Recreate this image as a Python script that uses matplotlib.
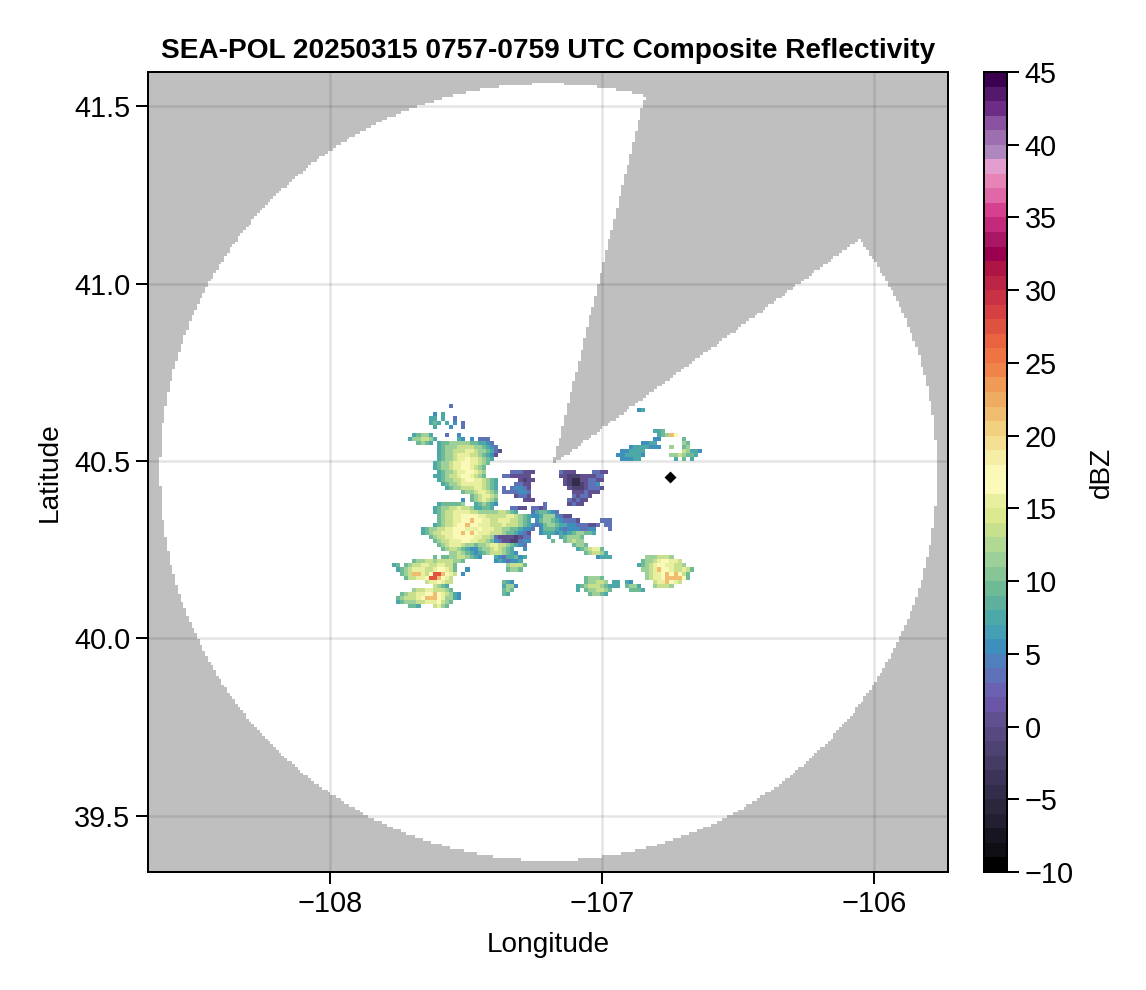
"""SEA-POL composite reflectivity map with the radar coverage mask and a stepped colorbar."""
import numpy as np
import matplotlib
matplotlib.use("Agg")
import matplotlib.pyplot as plt
from matplotlib.colors import ListedColormap, BoundaryNorm

plt.rcParams["font.family"] = ["Liberation Sans", "DejaVu Sans"]

OUT_PATH = "out.png"

TITLE = "SEA-POL 20250315 0757-0759 UTC Composite Reflectivity"
XLIM = (-108.669, -105.728)
YLIM = (39.342, 41.596)
X_TICKS = [-108, -107, -106]
Y_TICKS = [39.5, 40.0, 40.5, 41.0, 41.5]
CB_TICKS = [-10, -5, 0, 5, 10, 15, 20, 25, 30, 35, 40, 45]

# radar coverage
DISC_LON, DISC_LAT = -107.197, 40.469
DISC_R_LON, DISC_R_LAT = 1.428, 1.094
APEX_LON, APEX_LAT = -107.18, 40.489
BLOCK_AZ = (14.0, 53.6)
ASPECT = 355.0 / 272.0

MARKER_LON, MARKER_LAT = -106.75, 40.455

# one colour per dBZ bin, -10 to 44
COLORS = [
    "#000000", "#0f0e14", "#171520", "#231f30", "#2b263b", "#332c4a", "#3d3358", "#463b64",
    "#4e4272", "#57487f", "#60508f", "#6a55a6", "#6a62b0", "#5f72b8", "#4f80bc", "#3f8fbc",
    "#459fb4", "#4da8a8", "#5eb09d", "#6fba96", "#88c596", "#9dcf98", "#b2d993", "#c8e08e",
    "#dde98f", "#e8f0a0", "#fbfab9", "#fbf9b8", "#f6eda6", "#f3de92", "#f1d07f", "#f0bc70",
    "#eeac62", "#ef9a55", "#f08349", "#ee7443", "#e96340", "#e05240", "#d64042", "#c93144",
    "#bc2445", "#ae1545", "#9b004f", "#a91664", "#c42a7c", "#d5408f", "#e068a8", "#e684b5",
    "#e29ecf", "#ae87bf", "#9d6fb1", "#8b52a1", "#6d2c85", "#54186d", "#3b0050",
]
BOUNDS = list(range(-10, 46))

# echo grid
GRID_LON0, GRID_DLON = -107.772, 0.015
GRID_LAT0, GRID_DLAT = 40.66, -0.0115
N_ROWS, N_COLS = 50, 77
LEVELS = {"c": -4.5, "0": -1.5, "1": 0.5, "2": 3, "3": 5.5, "4": 7.5, "5": 9.5, "6": 11.5, "7": 13.5,
          "8": 15.5, "9": 17.5, "a": 21.5, "b": 27.5}

# (row, first column, levels)
ECHO_SPANS = [
    (0, 14, "2"), (1, 60, "34"), (2, 10, "3"), (2, 12, "4"),
    (3, 9, "44"), (3, 12, "4"), (3, 15, "2"),
    (4, 9, "45"), (4, 11, "4"), (4, 13, "4"), (4, 15, "3"), (4, 17, "2"),
    (5, 10, "4"), (5, 14, "3"), (5, 17, "2"), (6, 64, "445"),
    (7, 5, "45664"), (7, 13, "2"), (7, 16, "3"), (7, 65, "456"), (7, 68, "a9"),
    (8, 4, "4667764"), (8, 16, "43"), (8, 19, "3"), (8, 21, "22"), (8, 23, "2"), (8, 64, "33"), (8, 71, "5"),
    (9, 6, "5654"), (9, 11, "45566666554432"), (9, 61, "3344"), (9, 71, "65"),
    (10, 11, "456667777665432"), (10, 58, "34444333"), (10, 68, "6"), (10, 71, "56"),
    (11, 11, "4566777887665421"), (11, 56, "334444"), (11, 71, "76"), (11, 73, "443"),
    (12, 11, "456678887765431"), (12, 55, "3344443"), (12, 68, "66"), (12, 70, "7"), (12, 71, "65"), (12, 73, "54"),
    (13, 11, "45667889887654"), (13, 56, "33"), (13, 58, "344"), (13, 69, "4"), (13, 71, "5"), (13, 73, "4"),
    (14, 10, "45667889988765"), (15, 10, "4566788998765"),
    (16, 11, "456678899876"), (16, 29, "222111"), (16, 41, "2111"), (16, 49, "2211"),
    (17, 10, "4456778998765"), (17, 27, "2211111"), (17, 41, "11000111122"),
    (18, 11, "456677899887654"), (18, 31, "1011"), (18, 42, "10cc112211"),
    (19, 12, "45667888887654"), (19, 30, "2211"), (19, 42, "10cc01223"),
    (20, 13, "4566777887654"), (20, 27, "2"), (20, 29, "23321"), (20, 43, "100012221"),
    (21, 17, "566788765"), (21, 27, "22"), (21, 29, "2"), (21, 30, "2332"), (21, 44, "1112111"),
    (22, 19, "5678876"), (22, 30, "1221"), (22, 44, "21221"),
    (23, 17, "3"), (23, 19, "5678765"), (23, 32, "111"), (23, 43, "2121"), (23, 47, "1"),
    (24, 11, "4555556"), (24, 20, "456543"), (24, 37, "2"), (24, 43, "1211"),
    (25, 10, "4566778776"), (25, 20, "44554"), (25, 29, "2211"), (25, 34, "2212"),
    (26, 10, "456778888776666677654"), (26, 34, "2455432"),
    (27, 11, "5677889999887777788765"), (27, 33, "43"), (27, 35, "346663211"),
    (28, 11, "56778899a99887788877654"), (28, 35, "35665432221"), (28, 51, "22"), (28, 53, "2"),
    (29, 10, "45677899a99888777877765432"), (29, 36, "356654433222112"), (29, 52, "22"),
    (30, 7, "4566778899988898887766554332"), (30, 36, "35554323332233"), (30, 53, "2"),
    (31, 7, "4567788899a9a98887776554321"), (31, 36, "34443434566554"),
    (32, 9, "5677889999988776211110"), (32, 31, "122"), (32, 38, "4"), (32, 41, "456665"),
    (33, 10, "567788899887765321100"), (33, 31, "233"), (33, 39, "5"), (33, 42, "56766"),
    (34, 11, "5678887665667887765432"), (34, 44, "5665"),
    (35, 12, "567765433566787654"), (35, 32, "3"), (35, 45, "4567885"),
    (36, 14, "6676543"), (36, 21, "4567776543"), (36, 47, "567764"),
    (37, 10, "5"), (37, 12, "55"), (37, 14, "66776543"), (37, 25, "432"), (37, 28, "4453"), (37, 32, "4"),
    (37, 50, "3444"), (37, 62, "6667776"),
    (38, 5, "5667767777665"), (38, 25, "3432"), (38, 29, "334"), (38, 61, "5"), (38, 62, "667899887"),
    (39, 0, "45"), (39, 3, "5677887788775"), (39, 28, "67775"), (39, 60, "4"), (39, 61, "56789988776"),
    (40, 1, "456788877899875"), (40, 18, "3"), (40, 28, "5665"), (40, 61, "6"), (40, 62, "678a99877875"),
    (41, 2, "567aa879bba987"), (41, 17, "3"), (41, 62, "67889a9a975"),
    (42, 3, "577889bba987"), (42, 47, "56665"), (42, 62, "67889aaaa95"),
    (43, 8, "7889877"), (43, 27, "543"), (43, 47, "566776"), (43, 54, "44"), (43, 57, "43"), (43, 64, "788a987"),
    (44, 10, "7654"), (44, 27, "4663"), (44, 45, "4"), (44, 46, "56777654"), (44, 54, "44"), (44, 57, "5664"), (44, 64, "67776"),
    (45, 5, "6778877765"), (45, 27, "565"), (45, 45, "4"), (45, 47, "5667765"), (45, 58, "5554"),
    (46, 2, "56778899a98764"), (46, 16, "3"), (46, 27, "54"), (46, 48, "56654"),
    (47, 1, "5677789aaa98664"), (47, 16, "3"),
    (48, 1, "45666778889765"),
    (49, 4, "554"), (49, 10, "7865"),
]


def build_echo_grid():
    z = np.full((N_ROWS, N_COLS), np.nan)
    for row, col, levels in ECHO_SPANS:
        for i, ch in enumerate(levels):
            z[row, col + i] = LEVELS[ch]
    return np.ma.masked_invalid(z)


def build_mask():
    lon_e = np.arange(XLIM[0], XLIM[1] + 0.01, 0.01)
    lat_e = np.arange(YLIM[0], YLIM[1] + 0.008, 0.008)
    lon_c = (lon_e[:-1] + lon_e[1:]) / 2
    lat_c = (lat_e[:-1] + lat_e[1:]) / 2
    LON, LAT = np.meshgrid(lon_c, lat_c)
    outside = ((LON - DISC_LON) / DISC_R_LON) ** 2 + ((LAT - DISC_LAT) / DISC_R_LAT) ** 2 > 1
    az = np.degrees(np.arctan2(LON - APEX_LON, (LAT - APEX_LAT) * ASPECT))
    blocked = (az > BLOCK_AZ[0]) & (az < BLOCK_AZ[1])
    return lon_e, lat_e, np.ma.masked_where(~(outside | blocked), np.ones_like(LON))


def main():
    fig = plt.figure(figsize=(5.73, 4.95), dpi=200)
    W, H = 1146.0, 990.0
    ax = fig.add_axes([148 / W, 1 - 872 / H, 800 / W, 800 / H])
    cax = fig.add_axes([984 / W, 1 - 872 / H, 23 / W, 800 / H])

    cmap = ListedColormap(COLORS)
    norm = BoundaryNorm(BOUNDS, cmap.N)

    ax.set_axisbelow(True)
    ax.grid(True, color="black", alpha=0.1, linewidth=0.9, zorder=0)

    lon_e, lat_e, mask = build_mask()
    ax.pcolormesh(lon_e, lat_e, mask, cmap=ListedColormap(["black"]), alpha=0.25, zorder=2,
                  linewidth=0, rasterized=True)

    lon_g = GRID_LON0 + GRID_DLON * np.arange(N_COLS + 1)
    lat_g = GRID_LAT0 + GRID_DLAT * np.arange(N_ROWS + 1)
    mesh = ax.pcolormesh(lon_g, lat_g, build_echo_grid(), cmap=cmap, norm=norm, zorder=3, linewidth=0)
    ax.plot([MARKER_LON], [MARKER_LAT], marker="D", color="black", markersize=1.9, zorder=4)

    ax.set_xlim(XLIM)
    ax.set_ylim(YLIM)
    ax.set_xticks(X_TICKS)
    ax.set_yticks(Y_TICKS)
    ax.set_yticklabels([f"{v:.1f}" for v in Y_TICKS])
    ax.tick_params(length=4.3, width=0.72, labelsize=10.4, pad=2)
    for s in ax.spines.values():
        s.set_linewidth(0.72)
    ax.set_xlabel("Longitude", fontsize=10.1, labelpad=5.4)
    ax.set_ylabel("Latitude", fontsize=10.1, labelpad=4)
    ax.set_title(TITLE, fontsize=10.07, fontweight="bold", pad=5)

    cb = fig.colorbar(mesh, cax=cax, ticks=CB_TICKS, spacing="proportional")
    cb.ax.minorticks_off()
    cb.ax.tick_params(length=4.3, width=0.72, labelsize=10.4, pad=2)
    cb.outline.set_linewidth(0.72)
    cb.set_label("dBZ", fontsize=10.1, labelpad=5.4)

    fig.savefig(OUT_PATH, dpi=200)
    plt.close(fig)


if __name__ == "__main__":
    main()
